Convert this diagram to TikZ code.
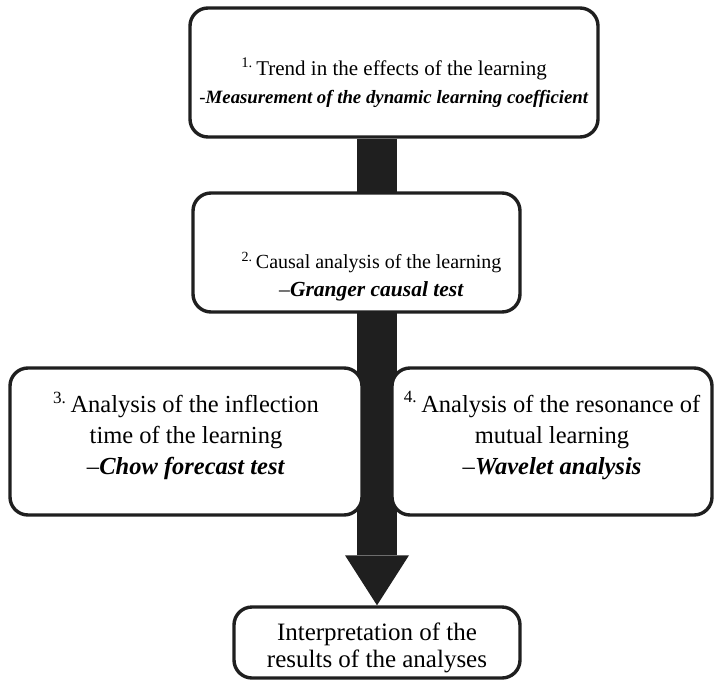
\documentclass[tikz,border=0pt]{standalone}
\usepackage{fontspec}
\setmainfont{Liberation Serif}
\usetikzlibrary{arrows.meta,backgrounds}
\newcommand{\stepno}[1]{\textsuperscript{#1}\,}
\newcommand{\method}[1]{\textbf{\textit{#1}}}
\tikzset{
  stagebox/.style  = {draw=black!88, fill=white, line width=3.4pt,
                      rounded corners=18pt, inner sep=0pt},
  stagetext/.style = {align=center, inner sep=0pt},
  flowarr/.style   = {black!88, line width=40pt,
                      -{Triangle[length=50pt,width=64pt,line width=0pt]}}
}

\begin{document}
\begin{tikzpicture}[x=1pt,y=-1pt]
  \useasboundingbox (0,0) rectangle (714,680);
  % --- the stage boxes, placed at coordinates ------------------------------
  \node[stagebox, minimum width=408pt, minimum height=129pt] (trend)   at (394,72.5) {};
  \node[stagebox, minimum width=327pt, minimum height=119pt] (causal)  at (356.5,252.5) {};
  \node[stagebox, minimum width=352pt, minimum height=147pt] (inflect) at (186,441.5) {};
  \node[stagebox, minimum width=320pt, minimum height=147pt] (reson)   at (552,441.5) {};
  \node[stagebox, minimum width=286pt, minimum height=71pt]  (interp)  at (377,642.5) {};
  % --- their texts, sitting a little off centre as in the original --------
  \node[stagetext, font=\fontsize{21}{28}\selectfont] (trendtx) at ([yshift=-10pt]trend.center)
        {\stepno{1.}Trend in the effects of the learning\\
         {\fontsize{18.8}{28}\selectfont -\method{Measurement of the dynamic learning coefficient}}};
  \node[stagetext, font=\fontsize{20}{28}\selectfont] (causaltx) at ([xshift=15pt,yshift=-24pt]causal.center)
        {\stepno{2.}Causal analysis of the learning\\
         {\fontsize{21.5}{28}\selectfont –\method{Granger causal test}}};
  \node[stagetext, font=\fontsize{24.5}{31}\selectfont] (inflecttx) at ([yshift=6pt]inflect.center)
        {\stepno{3.}Analysis of the inflection\\
         time of the learning\\
         –\method{Chow forecast test}};
  \node[stagetext, font=\fontsize{24.5}{31}\selectfont] (resontx) at ([yshift=6pt]reson.center)
        {\stepno{4.}Analysis of the resonance of\\
         mutual learning\\
         –\method{Wavelet analysis}};
  \node[stagetext, font=\fontsize{25}{27}\selectfont] (interptx) at ([yshift=-5pt]interp.center)
        {Interpretation of the\\
         results of the analyses};
  % --- the fat arrow, behind the boxes -------------------------------------
  \begin{scope}[on background layer]
    \draw[flowarr] (trend.south -| interp.north) -- (interp.north);
  \end{scope}
\end{tikzpicture}
\end{document}
